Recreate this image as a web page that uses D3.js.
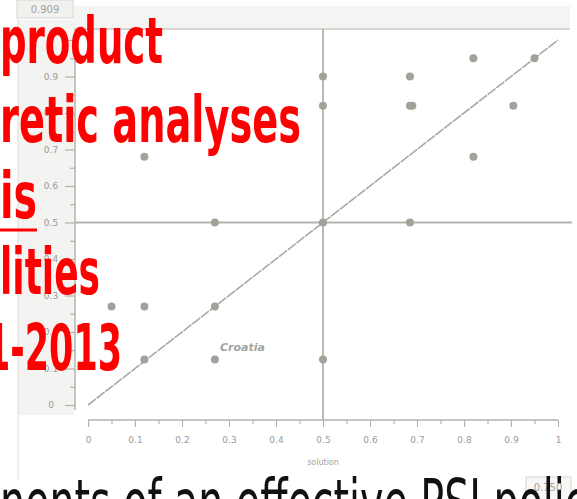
<!DOCTYPE html>
<html>
<head>
<meta charset="utf-8">
<script src="https://cdn.jsdelivr.net/npm/d3@7"></script>
<style>
  body { margin: 0; background: #fff; }
  svg { display: block; }
  .tick text { fill: #9a9a96; font-family: "DejaVu Sans", sans-serif; font-size: 9px; }
  .tick line { stroke: #b4b2aa; stroke-width: 1.2; }
</style>
</head>
<body>
<div id="chart"></div>
<script>
(function () {
  // scatter values
  const pointX = [0.5, 0.5, 0.685, 0.685, 0.69, 0.82, 0.95, 0.905, 0.82, 0.12, 0.27, 0.05, 0.12, 0.27, 0.12, 0.27, 0.5, 0.685, 0.5];
  const pointY = [0.9, 0.82, 0.9, 0.82, 0.82, 0.95, 0.95, 0.82, 0.68, 0.68, 0.5, 0.27, 0.27, 0.27, 0.125, 0.125, 0.5, 0.5, 0.125];

  // reference diagonal
  const diagX = [0, 1];
  const diagY = [0, 1];

  // tick values
  const majorTicks = [0, 0.1, 0.2, 0.3, 0.4, 0.5, 0.6, 0.7, 0.8, 0.9, 1];
  const minorTicks = [0.05, 0.15, 0.25, 0.35, 0.45, 0.55, 0.65, 0.75, 0.85, 0.95];

  const xTitle = "solution";
  const pointLabel = "Croatia";
  const cornerTop = "0.909";
  const cornerBottom = "0.750";

  // overlay texts
  const redLines = ["product", "retic analyses", "is", "lities", "1-2013"];
  const blackLine = "nents of an effective PSI policy";

  const width = 577;
  const height = 499;

  const svg = d3
    .select("#chart")
    .append("svg")
    .attr("width", width)
    .attr("height", height);

  const x = d3.scaleLinear().domain([0, 1]).range([88, 558]);
  const y = d3.scaleLinear().domain([0, 1]).range([405, 40]);
  const grey = "#b4b2aa";
  const fmt = (d) => (d === 0 || d === 1 ? d : d.toFixed(1));

  // panel backgrounds
  svg.append("rect").attr("x", 18).attr("y", 20).attr("width", 56).attr("height", 395).attr("fill", "#f3f3f1");
  svg.append("rect").attr("x", 74).attr("y", 6).attr("width", 496).attr("height", 22).attr("fill", "#f4f4f2");
  svg.append("line").attr("x1", 18).attr("x2", 18).attr("y1", 0).attr("y2", 480).attr("stroke", "#dcdcd8");

  // corner boxes
  svg.append("rect").attr("x", 17).attr("y", 0).attr("width", 56).attr("height", 18)
    .attr("fill", "#f1f1ef").attr("stroke", "#d6d6d2");
  svg.append("text").attr("x", 45).attr("y", 13).attr("text-anchor", "middle")
    .attr("fill", "#a3a39f").style("font", "10px 'DejaVu Sans'").text(cornerTop);
  svg.append("rect").attr("x", 526).attr("y", 477).attr("width", 45).attr("height", 30)
    .attr("fill", "#f7f7f5").attr("stroke", "#d6d6d2");
  svg.append("text").attr("x", 548).attr("y", 491).attr("text-anchor", "middle")
    .attr("fill", "#a3a39f").style("font", "10px 'DejaVu Sans'").text(cornerBottom);

  // plot frame lines
  svg.append("line").attr("x1", 74).attr("x2", 570).attr("y1", 29).attr("y2", 29)
    .attr("stroke", "#c8c6c0").attr("stroke-width", 1.5);
  svg.append("line").attr("x1", 75).attr("x2", 75).attr("y1", 29).attr("y2", 410)
    .attr("stroke", grey).attr("stroke-width", 1.5);
  svg.append("line").attr("x1", x(0)).attr("x2", x(1)).attr("y1", 420).attr("y2", 420)
    .attr("stroke", grey).attr("stroke-width", 1.5);

  // quadrant lines at 0.5
  svg.append("line").attr("x1", x(0.5)).attr("x2", x(0.5)).attr("y1", 29).attr("y2", 420)
    .attr("stroke", grey).attr("stroke-width", 1.8);
  svg.append("line").attr("x1", 75).attr("x2", 572).attr("y1", y(0.5)).attr("y2", y(0.5))
    .attr("stroke", grey).attr("stroke-width", 1.8);

  // y axis (ticks point left)
  const gy = svg.append("g").attr("transform", "translate(75,0)");
  gy.call(d3.axisLeft(y).tickValues(majorTicks).tickSize(10).tickFormat(fmt))
    .call((g) => g.select(".domain").remove())
    .call((g) => g.selectAll("text").attr("text-anchor", "middle").attr("x", -24));
  gy.append("g")
    .call(d3.axisLeft(y).tickValues(minorTicks).tickSize(5).tickFormat(""))
    .call((g) => g.select(".domain").remove());

  // x axis (ticks point down)
  const gx = svg.append("g").attr("transform", "translate(0,420)");
  gx.call(d3.axisBottom(x).tickValues(majorTicks).tickSize(7).tickPadding(10).tickFormat(fmt))
    .call((g) => g.select(".domain").remove());
  gx.append("g")
    .call(d3.axisBottom(x).tickValues(minorTicks).tickSize(4).tickFormat(""))
    .call((g) => g.select(".domain").remove());

  svg.append("text").attr("x", x(0.5)).attr("y", 465).attr("text-anchor", "middle")
    .attr("fill", "#a3a39f").style("font", "8px 'DejaVu Sans'").text(xTitle);

  // diagonal
  svg.append("path")
    .datum(diagX.map((d, i) => [d, diagY[i]]))
    .attr("fill", "none")
    .attr("stroke", "#aaa8a0")
    .attr("stroke-width", 1.6)
    .attr("stroke-dasharray", "10,1")
    .attr("d", d3.line().x((d) => x(d[0])).y((d) => y(d[1])));

  // points
  svg.append("g")
    .selectAll("circle")
    .data(pointX.map((d, i) => ({ x: d, y: pointY[i] })))
    .join("circle")
    .attr("cx", (d) => x(d.x))
    .attr("cy", (d) => y(d.y))
    .attr("r", 4)
    .attr("fill", "#a3a199");

  svg.append("text").attr("x", 220).attr("y", 351)
    .attr("fill", "#a3a39f")
    .style("font", "italic bold 11px 'DejaVu Sans'")
    .text(pointLabel);

  // red overlay text
  const redLayout = [
    { x: 0, y: 63, w: 163 },
    { x: 0, y: 142, w: 301 },
    { x: 0, y: 218, w: 37 },
    { x: 0, y: 294, w: 100 },
    { x: -14, y: 370, w: 136 },
  ];
  svg.append("g")
    .selectAll("text")
    .data(redLines)
    .join("text")
    .attr("x", (d, i) => redLayout[i].x)
    .attr("y", (d, i) => redLayout[i].y)
    .attr("textLength", (d, i) => redLayout[i].w)
    .attr("lengthAdjust", "spacingAndGlyphs")
    .attr("fill", "#ff0000")
    .style("font-family", "'Liberation Sans Narrow', 'DejaVu Sans Condensed', Roboto, sans-serif")
    .style("font-weight", "bold")
    .style("font-size", "64px")
    .text((d) => d);
  svg.append("line").attr("x1", 0).attr("x2", 37).attr("y1", 230).attr("y2", 230)
    .attr("stroke", "#ff0000").attr("stroke-width", 3);

  // black bottom line
  svg.append("text")
    .attr("x", 0)
    .attr("y", 525)
    .attr("textLength", 610)
    .attr("lengthAdjust", "spacingAndGlyphs")
    .attr("fill", "#111")
    .style("font-family", "'Liberation Sans Narrow', 'DejaVu Sans Condensed', Roboto, sans-serif")
    .style("font-size", "64px")
    .text(blackLine);
})();
</script>
</body>
</html>
